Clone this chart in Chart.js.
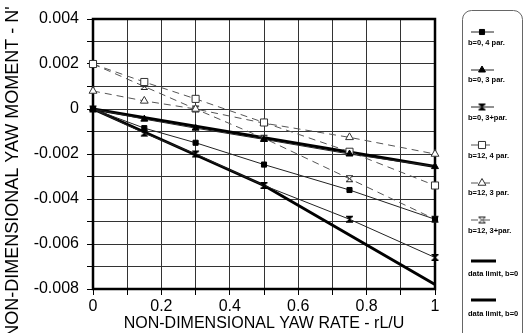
<!DOCTYPE html>
<html>
<head>
<meta charset="utf-8">
<script src="https://cdn.jsdelivr.net/npm/chart.js@4.4.1/dist/chart.umd.min.js"></script>
<style>
  html, body { margin: 0; padding: 0; background: #fff; }
  #wrap { width: 525px; height: 333px; position: relative; }
</style>
</head>
<body>
<div id="wrap"><canvas id="chart"></canvas></div>
<script>
// yaw rate values where the runs were measured
const yawRate = [0, 0.15, 0.3, 0.5, 0.75, 1];

const b0FourPar = [0, -0.00085, -0.0015, -0.00247, -0.0036, -0.0049];
const b0ThreePar = [0, -0.00045, -0.00085, -0.00135, -0.002, -0.00256];
const b0ThreePlus = [0, -0.00107, -0.002, -0.0034, -0.0049, -0.0066];
const b12FourPar = [0.002, 0.0012, 0.00045, -0.0006, -0.0019, -0.0034];
const b12ThreePar = [0.0008, 0.00036, 0, -0.00063, -0.00126, -0.002];
const b12ThreePlus = [0.002, 0.001, 0, -0.0013, -0.0031, -0.0049];

// the two "data limit" lines
const limit1X = [0, 1];
const limit1Y = [0, -0.00256];
const limit2X = [0, 0.5, 1];
const limit2Y = [0, -0.0034, -0.0078];

const seriesLabels = ["b=0, 4 par.", "b=0, 3 par.", "b=0, 3+par.", "b=12, 4 par.", "b=12, 3 par.", "b=12, 3+par.", "data limit, b=0", "data limit, b=0"];

const FONT = '"Liberation Sans", Arial, sans-serif';

const toPoints = (xs, ys) => xs.map((x, i) => ({ x: x, y: ys[i] }));

function makeHourglass(filled) {
  const c = document.createElement("canvas");
  c.width = 9;
  c.height = 9;
  const g = c.getContext("2d");
  g.beginPath();
  g.moveTo(1, 1.5);
  g.lineTo(8, 1.5);
  g.lineTo(1, 7.5);
  g.lineTo(8, 7.5);
  g.closePath();
  g.fillStyle = filled ? "#000" : "#fff";
  g.fill();
  g.strokeStyle = filled ? "#000" : "#222";
  g.lineWidth = 1;
  g.stroke();
  return c;
}
const hourFilled = makeHourglass(true);
const hourOpen = makeHourglass(false);

const thin = (label, ys, style, radius) => ({
  label: label,
  data: toPoints(yawRate, ys),
  borderColor: "#222",
  borderWidth: 1,
  pointStyle: style,
  pointRadius: radius,
  pointBackgroundColor: "#000",
  pointBorderColor: "#000",
  pointBorderWidth: 1,
  tension: 0,
  clip: false,
});
const dashed = (label, ys, style, radius) => ({
  label: label,
  data: toPoints(yawRate, ys),
  borderColor: "#555",
  borderWidth: 1,
  borderDash: [7, 5],
  pointStyle: style,
  pointRadius: radius,
  pointBackgroundColor: "#fff",
  pointBorderColor: "#333",
  pointBorderWidth: 1,
  tension: 0,
  clip: false,
});
const thick = (label, xs, ys) => ({
  label: label,
  data: toPoints(xs, ys),
  borderColor: "#000",
  borderWidth: 3,
  pointRadius: 0,
  tension: 0,
  clip: false,
});

const frame = {
  id: "frame",
  beforeDatasetsDraw(chart) {
    const a = chart.chartArea;
    const ctx = chart.ctx;
    ctx.save();
    ctx.strokeStyle = "#000";
    ctx.lineWidth = 2.5;
    ctx.strokeRect(a.left, a.top, a.right - a.left, a.bottom - a.top);
    ctx.restore();
  },
};

const titles = {
  id: "titles",
  afterDraw(chart) {
    const ctx = chart.ctx;
    const a = chart.chartArea;
    ctx.save();
    ctx.fillStyle = "#000";
    ctx.textAlign = "center";
    ctx.textBaseline = "middle";
    ctx.font = "16px " + FONT;
    ctx.fillText("NON-DIMENSIONAL YAW RATE - rL/U", (a.left + a.right) / 2, 324);
    ctx.translate(13, 172);
    ctx.rotate(-Math.PI / 2);
    ctx.font = "18px " + FONT;
    ctx.fillText("NON-DIMENSIONAL YAW MOMENT - N'", 0, 0);
    ctx.restore();
  },
};

// legend drawn as a tall box to the right: symbol above each label
const sideLegend = {
  id: "sideLegend",
  afterDraw(chart) {
    const ctx = chart.ctx;
    const lineY = [32, 70, 107, 145, 183, 220, 261, 300];
    const textY = [43, 80, 118, 156, 193, 231, 274, 314];
    ctx.save();
    ctx.strokeStyle = "#666";
    ctx.lineWidth = 1;
    ctx.beginPath();
    ctx.roundRect(462.5, 10.5, 60, 335, 9);
    ctx.stroke();
    chart.data.datasets.forEach((ds, i) => {
      const y = lineY[i];
      ctx.save();
      ctx.strokeStyle = ds.borderColor;
      ctx.lineWidth = ds.borderWidth;
      ctx.setLineDash(ds.borderDash || []);
      ctx.beginPath();
      ctx.moveTo(471, y);
      ctx.lineTo(ds.pointRadius ? 494 : 496, y);
      ctx.stroke();
      ctx.setLineDash([]);
      if (ds.pointRadius) {
        ctx.fillStyle = ds.pointBackgroundColor;
        ctx.strokeStyle = ds.pointBorderColor;
        ctx.lineWidth = 1;
        Chart.helpers.drawPoint(ctx, {
          pointStyle: ds.pointStyle,
          radius: ds.pointRadius,
          rotation: 0,
          borderWidth: 1,
        }, 482, y);
      }
      ctx.restore();
      ctx.fillStyle = "#000";
      ctx.font = "bold 7.5px " + FONT;
      ctx.textAlign = "left";
      ctx.textBaseline = "middle";
      ctx.fillText(ds.label, 468, textY[i]);
    });
    ctx.restore();
  },
};

const tickFont = { family: FONT, size: 16 };

new Chart(document.getElementById("chart"), {
  type: "line",
  data: {
    datasets: [
      thin(seriesLabels[0], b0FourPar, "rect", 3.6),
      thin(seriesLabels[1], b0ThreePar, "triangle", 4),
      thin(seriesLabels[2], b0ThreePlus, hourFilled, 4),
      dashed(seriesLabels[3], b12FourPar, "rect", 5),
      dashed(seriesLabels[4], b12ThreePar, "triangle", 4.5),
      dashed(seriesLabels[5], b12ThreePlus, hourOpen, 4),
      thick(seriesLabels[6], limit1X, limit1Y),
      thick(seriesLabels[7], limit2X, limit2Y),
    ],
  },
  options: {
    responsive: true,
    maintainAspectRatio: false,
    animation: false,
    devicePixelRatio: 1,
    layout: { padding: { left: 0, right: 90, top: 19, bottom: 0 } },
    plugins: {
      legend: { display: false },
      tooltip: { enabled: false },
    },
    scales: {
      x: {
        type: "linear",
        min: 0,
        max: 1,
        afterFit: (s) => { s.height = 44; },
        border: { display: false },
        grid: { color: "#333", lineWidth: 1, tickLength: 6, tickColor: "#000" },
        ticks: {
          stepSize: 0.1,
          autoSkip: false,
          maxRotation: 0,
          padding: 2,
          color: "#000",
          font: tickFont,
          callback: (v) => {
            const n = Math.round(v * 10);
            return n % 2 === 0 ? String(n / 10) : "";
          },
        },
      },
      y: {
        min: -0.008,
        max: 0.004,
        afterFit: (s) => { s.width = 93; },
        border: { display: false },
        grid: { color: "#333", lineWidth: 1, tickLength: 6, tickColor: "#000" },
        ticks: {
          stepSize: 0.001,
          autoSkip: false,
          padding: 8,
          color: "#000",
          font: tickFont,
          callback: (v) => {
            const n = Math.round(v * 1000);
            if (n % 2 !== 0) return "";
            return n === 0 ? "0" : (n / 1000).toFixed(3);
          },
        },
      },
    },
  },
  plugins: [frame, titles, sideLegend],
});
</script>
</body>
</html>
